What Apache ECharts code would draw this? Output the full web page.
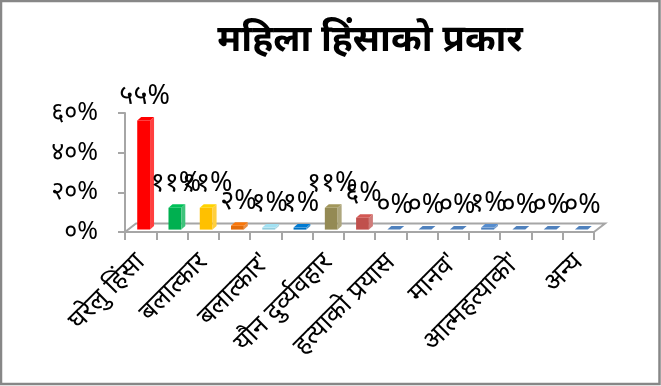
<!DOCTYPE html>
<html>
<head>
<meta charset="utf-8">
<script src="https://cdn.jsdelivr.net/npm/echarts@6/dist/echarts.min.js"></script>
<style>
html,body{margin:0;padding:0;background:#fff;}
#chart{width:661px;height:386px;}
</style>
</head>
<body>
<div id="chart"></div>
<script>
const titleText = 'महिला हिंसाको प्रकार';
const categories = [
  'घरेलु हिंसा', 'बहुविवाह', 'बलात्कार', 'बाल विवाह', "बलात्कार'",
  'बोक्सी आरोप', 'यौन दुर्व्यवहार', 'दाइजो', 'हत्याको प्रयास', 'हत्या',
  "मानव'", 'अपहरण', "आत्महत्याको'", 'मानसिक यातना', 'अन्य'
];
const values = [55, 11, 11, 2, 1, 1, 11, 6, 0, 0, 0, 1, 0, 0, 0];
const dataLabels = ['५५%', '११%', '११%', '२%', '१%', '१%', '११%', '६%', '०%', '०%', '०%', '१%', '०%', '०%', '०%'];
const barColors = ['#FF0000', '#00B050', '#FFC000', '#E36C09', '#93CDDD', '#0070C0', '#948A54', '#C0504D',
  '#4F81BD', '#4F81BD', '#4F81BD', '#4F81BD', '#4F81BD', '#4F81BD', '#4F81BD'];
const yTickLabels = ['०%', '२०%', '४०%', '६०%'];

const FONT = "'Noto Sans', 'Noto Sans Devanagari', 'Lohit Devanagari', 'DejaVu Sans', sans-serif";

const chart = echarts.init(document.getElementById('chart'));

function renderBar(params, api) {
  const i = api.value(0), v = api.value(1);
  const base = api.coord([i, 0]);
  const top = api.coord([i, v]);
  const band = api.size([1, 0])[0];
  const w = band * 0.41;
  const dx = 4, dy = 3.5;
  const sx = 3, sy = -2.4;
  const x0 = base[0] - w / 2 + sx;
  const yb = base[1] + sy;
  const yt = top[1] + sy;
  const c = barColors[i];
  const side = echarts.color.lift(c, 0.25);
  const topc = echarts.color.lift(c, -0.1);
  const children = [];
  if (yb - yt > 0.5) {
    children.push({type: 'rect', shape: {x: x0, y: yt, width: w, height: yb - yt}, style: {fill: c}});
    children.push({type: 'polygon', shape: {points: [[x0 + w, yt], [x0 + w + dx, yt - dy], [x0 + w + dx, yb - dy], [x0 + w, yb]]}, style: {fill: side}});
  }
  children.push({type: 'polygon', shape: {points: [[x0, yt], [x0 + dx, yt - dy], [x0 + w + dx, yt - dy], [x0 + w, yt]]}, style: {fill: v > 0 ? topc : c}});
  children.push({type: 'text', x: x0 + w / 2 + 1, y: yt - dy - 7,
    style: {text: dataLabels[i], textAlign: 'center', textVerticalAlign: 'bottom', fontSize: 27, fill: '#000', fontFamily: FONT}});
  return {type: 'group', children};
}

function renderFloor(params, api) {
  const n = categories.length;
  const band = api.size([1, 0])[0];
  const a = api.coord([0, 0]);
  const b = api.coord([n - 1, 0]);
  const xl = a[0] - band / 2, xr = b[0] + band / 2, y = a[1];
  const dx = 11, dy = 8.5;
  return {type: 'polyline', shape: {points: [[xl, y], [xl + dx, y - dy], [xr + dx, y - dy], [xr, y]]},
    style: {stroke: '#A6A6A6', lineWidth: 2, fill: null}, z2: 0};
}

chart.setOption({
  animation: false,
  backgroundColor: '#fff',
  textStyle: {fontFamily: FONT},
  graphic: [
    {type: 'rect', shape: {x: 1, y: 1, width: 658.5, height: 383}, style: {fill: null, stroke: '#878787', lineWidth: 2.5}, z: 100},
    {type: 'text', x: 370, y: 40, style: {text: titleText, textAlign: 'center', textVerticalAlign: 'middle', fontSize: 37, fontWeight: 'bold', fill: '#000', fontFamily: FONT}}
  ],
  grid: {left: 125, right: 67, top: 113, bottom: 154},
  xAxis: {
    type: 'category',
    data: categories,
    boundaryGap: true,
    axisLine: {lineStyle: {color: '#A6A6A6', width: 2}},
    axisTick: {show: true, interval: 0, length: 8, lineStyle: {color: '#A6A6A6', width: 2}},
    axisLabel: {interval: 1, rotate: 45, fontSize: 26, color: '#000', margin: 26, fontFamily: FONT}
  },
  yAxis: {
    type: 'value',
    min: 0, max: 60, interval: 20,
    axisLine: {show: true, lineStyle: {color: '#A6A6A6', width: 2}},
    axisTick: {show: true, length: 7, lineStyle: {color: '#A6A6A6', width: 2}},
    splitLine: {show: false},
    axisLabel: {fontSize: 25, color: '#000', margin: 27, fontFamily: FONT,
      formatter: (val) => yTickLabels[Math.round(val / 20)]}
  },
  series: [
    {type: 'custom', renderItem: renderFloor, data: [[0, 0]], silent: true, z: 1},
    {type: 'custom', renderItem: renderBar, data: values.map((v, i) => [i, v]), z: 2, clip: false}
  ]
});
</script>
</body>
</html>
